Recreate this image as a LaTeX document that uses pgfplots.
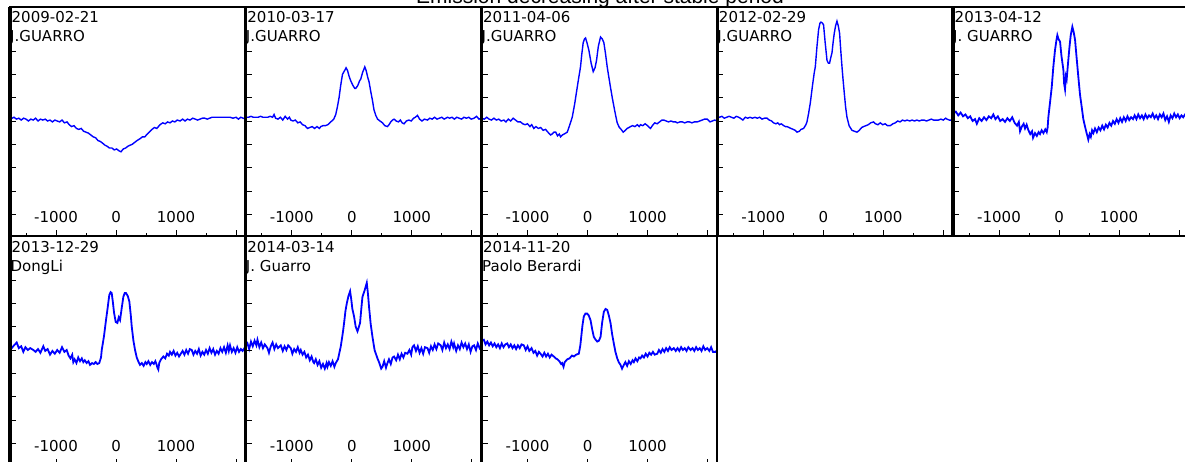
\documentclass[border=0pt]{standalone}
\usepackage{fontspec}
\setmainfont{DejaVu Sans}
\newfontfamily\titlefont{Liberation Sans}
\usepackage{pgfplots}
\pgfplotsset{compat=1.18}
\definecolor{specblue}{RGB}{0,0,255}

\tikzset{lbl/.style={anchor=base west, inner sep=0pt, font=\fontsize{15}{18}\selectfont}}
\pgfplotsset{
  panel/.style={
    anchor=north west,
    scale only axis,
    width=235.75pt, height=229pt,
    xmin=-1767, xmax=2162,
    ymin=-0.233, ymax=2.222,
    axis on top,
    axis line style={line width=1.2pt, black},
    tick align=inside,
    tick pos=left,
    xtick={-1000,0,1000,2000},
    xticklabels={-1000,0,1000,{}},
    minor xtick={-1500,-500,500,1500},
    ytick={0,0.25,...,1.75},
    yticklabels={},
    major tick length=6pt,
    minor tick length=3pt,
    tick style={black, line width=0.9pt},
    every x tick label/.append style={anchor=base, yshift=13.5pt, font=\fontsize{15}{18}\selectfont},
    after end axis/.code={
      \draw[line width=2.2pt] (rel axis cs:1,0) -- (rel axis cs:1,1);
      \draw[line width=2.6pt] (rel axis cs:0,0) -- (rel axis cs:1,0);
      \draw[line width=3.2pt] (rel axis cs:0,0) -- (rel axis cs:0,1);
    },
  },
  thinspec/.style={specblue, line width=1.4pt, mark=none},
  noisyspec/.style={specblue, line width=1.8pt, mark=none},
}

\begin{document}
\begin{tikzpicture}

\node[anchor=base, inner sep=0pt, font=\titlefont\fontsize{21}{25}\selectfont] at (600pt,-3pt) {Emission decreasing after stable period};

% ---------- Panel 1 ----------
\begin{axis}[panel, at={(10pt,-7pt)}]
\addplot[thinspec] coordinates {
(-1767,1.05) (-1730,1.03) (-1700,1.04) (-1660,1.02) (-1620,1.03) (-1580,1.01) (-1540,1.03) (-1500,1.02) (-1460,1.00) (-1420,1.02) (-1380,1.01) (-1340,1.03) (-1300,1.00) (-1260,1.02) (-1220,1.01) (-1180,1.02) (-1140,1.00) (-1100,1.01) (-1060,0.99) (-1020,1.01) (-980,1.00) (-940,0.99) (-900,1.01) (-860,0.98) (-817,0.99) (-780,0.96) (-740,0.94) (-700,0.95) (-660,0.92) (-620,0.91) (-580,0.92) (-540,0.89) (-500,0.88) (-460,0.87) (-420,0.85) (-380,0.83) (-340,0.82) (-300,0.79) (-260,0.78) (-220,0.76) (-183,0.74) (-150,0.73) (-110,0.71) (-67,0.71) (-30,0.69) (10,0.70) (50,0.68) (83,0.67) (120,0.70) (160,0.71) (200,0.73) (233,0.74) (270,0.75) (310,0.77) (350,0.79) (400,0.81) (440,0.83) (480,0.83) (520,0.86) (567,0.89) (600,0.91) (640,0.93) (680,0.92) (733,0.96) (780,0.98) (820,0.97) (860,0.99) (900,0.98) (940,1.00) (980,0.99) (1020,1.01) (1067,1.00) (1110,1.02) (1150,1.00) (1190,1.02) (1233,1.01) (1280,1.03) (1320,1.02) (1360,1.01) (1400,1.02) (1440,1.03) (1480,1.03) (1520,1.02) (1560,1.03) (1600,1.04) (1650,1.04) (1700,1.04) (1750,1.04) (1800,1.04) (1850,1.04) (1900,1.04) (1950,1.03) (2000,1.04) (2040,1.02) (2080,1.04) (2120,1.03) (2162,1.02)
};
\node[lbl] at ([xshift=1.5pt,yshift=-15.5pt]rel axis cs:0,1) {2009-02-21};
\node[lbl] at ([xshift=0pt,yshift=-34.5pt]rel axis cs:0,1) {J.GUARRO};
\end{axis}

% ---------- Panel 2 ----------
\begin{axis}[panel, at={(245.75pt,-7pt)}]
\addplot[thinspec] coordinates {
(-1767,1.04) (-1720,1.04) (-1680,1.05) (-1640,1.04) (-1600,1.04) (-1560,1.04) (-1520,1.05) (-1480,1.04) (-1440,1.04) (-1400,1.04) (-1360,1.05) (-1320,1.04) (-1295,1.07) (-1270,1.03) (-1230,1.02) (-1190,1.04) (-1150,1.01) (-1110,1.05) (-1070,1.02) (-1040,1.04) (-1017,1.01) (-980,1.00) (-940,1.01) (-900,0.98) (-860,0.99) (-820,0.96) (-780,0.95) (-738,0.92) (-700,0.93) (-660,0.94) (-620,0.92) (-580,0.94) (-540,0.92) (-517,0.94) (-480,0.95) (-440,0.95) (-400,0.96) (-350,0.99) (-300,1.02) (-267,1.07) (-240,1.15) (-212,1.25) (-185,1.38) (-155,1.50) (-120,1.54) (-95,1.57) (-70,1.54) (-45,1.48) (-17,1.43) (20,1.38) (50,1.35) (67,1.35) (100,1.38) (130,1.43) (150,1.45) (180,1.52) (217,1.58) (240,1.54) (265,1.47) (288,1.42) (315,1.32) (345,1.22) (370,1.12) (400,1.06) (430,1.02) (470,1.00) (512,0.98) (550,0.95) (595,0.94) (620,0.96) (650,0.99) (680,1.01) (705,1.02) (740,1.00) (780,0.99) (810,1.01) (840,0.98) (872,0.97) (910,1.00) (950,1.01) (990,1.00) (1030,1.03) (1060,1.04) (1095,1.06) (1130,1.02) (1170,1.00) (1210,1.02) (1262,1.01) (1300,1.03) (1340,1.02) (1380,1.04) (1420,1.02) (1460,1.03) (1500,1.04) (1540,1.02) (1595,1.04) (1630,1.03) (1670,1.04) (1710,1.02) (1750,1.04) (1790,1.03) (1830,1.02) (1870,1.04) (1910,1.03) (1950,1.04) (1990,1.02) (2038,1.03) (2080,1.05) (2120,1.02) (2162,1.03)
};
\node[lbl] at ([xshift=1.5pt,yshift=-15.5pt]rel axis cs:0,1) {2010-03-17};
\node[lbl] at ([xshift=0pt,yshift=-34.5pt]rel axis cs:0,1) {J.GUARRO};
\end{axis}

% ---------- Panel 3 ----------
\begin{axis}[panel, at={(481.5pt,-7pt)}]
\addplot[thinspec] coordinates {
(-1767,1.03) (-1720,1.02) (-1680,1.04) (-1640,1.02) (-1600,1.01) (-1560,1.03) (-1520,1.01) (-1480,1.02) (-1440,1.00) (-1395,1.01) (-1360,0.99) (-1320,1.02) (-1280,1.00) (-1240,1.03) (-1200,1.01) (-1160,0.99) (-1117,0.99) (-1080,0.97) (-1040,0.96) (-1000,0.97) (-960,0.94) (-930,0.96) (-895,0.92) (-860,0.94) (-820,0.92) (-780,0.93) (-740,0.90) (-700,0.91) (-660,0.88) (-617,0.85) (-590,0.86) (-560,0.88) (-530,0.88) (-500,0.84) (-470,0.86) (-450,0.83) (-420,0.85) (-390,0.86) (-338,0.88) (-300,0.95) (-255,1.04) (-215,1.18) (-172,1.36) (-145,1.47) (-117,1.58) (-95,1.72) (-72,1.84) (-50,1.88) (-33,1.89) (-5,1.83) (22,1.76) (60,1.62) (95,1.53) (125,1.57) (150,1.65) (180,1.80) (217,1.90) (245,1.88) (272,1.84) (300,1.72) (328,1.58) (355,1.47) (383,1.36) (415,1.24) (450,1.12) (475,1.04) (495,0.98) (530,0.93) (560,0.91) (595,0.88) (630,0.90) (660,0.92) (690,0.93) (717,0.94) (750,0.95) (790,0.94) (830,0.96) (860,0.94) (883,0.96) (920,0.95) (960,0.97) (1000,0.95) (1030,0.93) (1050,0.92) (1080,0.95) (1120,0.98) (1160,0.97) (1200,0.99) (1240,1.01) (1272,1.01) (1310,1.00) (1350,0.99) (1390,1.00) (1430,0.99) (1470,0.99) (1495,0.98) (1540,0.99) (1580,0.99) (1620,0.98) (1660,0.99) (1700,0.99) (1740,0.98) (1780,0.99) (1828,0.99) (1870,1.00) (1910,1.01) (1950,1.02) (1995,1.02) (2040,0.99) (2080,1.00) (2120,1.01) (2162,1.00)
};
\node[lbl] at ([xshift=1.5pt,yshift=-15.5pt]rel axis cs:0,1) {2011-04-06};
\node[lbl] at ([xshift=0pt,yshift=-34.5pt]rel axis cs:0,1) {J.GUARRO};
\end{axis}

% ---------- Panel 4 ----------
\begin{axis}[panel, at={(717.25pt,-7pt)}]
\addplot[thinspec] coordinates {
(-1767,1.05) (-1730,1.04) (-1690,1.05) (-1650,1.03) (-1610,1.04) (-1570,1.05) (-1530,1.04) (-1490,1.03) (-1450,1.05) (-1410,1.04) (-1383,1.03) (-1340,1.01) (-1300,1.04) (-1260,1.03) (-1220,1.04) (-1180,1.03) (-1140,1.04) (-1100,1.03) (-1060,1.04) (-1020,1.02) (-980,1.03) (-938,1.03) (-900,1.01) (-860,1.00) (-828,0.98) (-790,0.97) (-760,0.98) (-730,0.96) (-700,0.97) (-660,0.95) (-630,0.94) (-605,0.94) (-570,0.93) (-540,0.92) (-500,0.91) (-470,0.90) (-438,0.88) (-400,0.89) (-370,0.91) (-328,0.92) (-290,0.96) (-272,0.99) (-245,1.08) (-217,1.19) (-180,1.38) (-150,1.52) (-133,1.58) (-105,1.80) (-78,1.98) (-55,2.05) (-38,2.06) (-15,2.05) (5,2.03) (30,1.85) (62,1.65) (85,1.62) (105,1.62) (125,1.68) (145,1.73) (165,1.85) (183,1.94) (205,2.02) (228,2.07) (250,2.02) (272,1.94) (292,1.75) (312,1.58) (330,1.44) (350,1.30) (372,1.15) (395,1.04) (430,0.95) (478,0.90) (520,0.89) (562,0.88) (600,0.90) (640,0.93) (672,0.94) (710,0.95) (750,0.96) (790,0.98) (838,0.99) (870,0.97) (910,0.96) (950,0.98) (990,0.96) (1030,0.97) (1070,0.95) (1117,0.95) (1160,0.97) (1200,0.98) (1240,1.00) (1280,0.99) (1320,1.01) (1360,1.00) (1395,1.01) (1440,1.00) (1480,1.01) (1520,1.00) (1560,1.01) (1600,1.00) (1640,1.01) (1680,1.01) (1720,1.00) (1760,1.01) (1800,1.02) (1838,1.01) (1880,1.01) (1920,1.01) (1960,1.02) (2000,1.01) (2040,1.03) (2062,1.02) (2100,1.01) (2162,1.01)
};
\node[lbl] at ([xshift=1.5pt,yshift=-15.5pt]rel axis cs:0,1) {2012-02-29};
\node[lbl] at ([xshift=0pt,yshift=-34.5pt]rel axis cs:0,1) {J.GUARRO};
\end{axis}

% ---------- Panel 5 ----------
\begin{axis}[panel, at={(953pt,-7pt)}]
\addplot[noisyspec] coordinates {
(-1767,1.08) (-1720,1.10) (-1680,1.06) (-1640,1.09) (-1600,1.05) (-1560,1.07) (-1520,1.03) (-1480,1.05) (-1440,1.00) (-1400,1.02) (-1370,0.97) (-1330,1.03) (-1290,1.00) (-1250,1.04) (-1210,1.01) (-1170,1.05) (-1130,1.03) (-1095,1.07) (-1060,1.02) (-1020,1.05) (-980,1.00) (-940,1.02) (-900,0.99) (-860,1.03) (-820,1.00) (-780,1.04) (-740,0.98) (-700,0.95) (-670,0.99) (-650,0.89) (-620,0.94) (-590,0.97) (-567,0.92) (-540,0.96) (-510,0.90) (-480,0.86) (-450,0.89) (-433,0.82) (-400,0.87) (-370,0.84) (-340,0.88) (-317,0.86) (-290,0.90) (-260,0.87) (-230,0.91) (-205,0.88) (-190,0.93) (-178,1.04) (-150,1.20) (-122,1.36) (-95,1.58) (-67,1.76) (-45,1.86) (-28,1.92) (-10,1.88) (17,1.85) (40,1.70) (72,1.55) (85,1.40) (100,1.34) (115,1.48) (128,1.45) (150,1.62) (172,1.78) (195,1.92) (222,2.01) (245,1.95) (267,1.87) (290,1.70) (322,1.47) (350,1.28) (378,1.15) (405,1.02) (433,0.94) (460,0.87) (488,0.80) (510,0.86) (530,0.83) (550,0.90) (572,0.87) (600,0.92) (630,0.88) (660,0.93) (690,0.90) (720,0.95) (750,0.91) (780,0.96) (810,0.93) (840,0.98) (870,0.95) (900,1.00) (930,0.97) (960,1.02) (990,0.98) (1020,1.03) (1050,0.99) (1080,1.04) (1110,1.00) (1140,1.05) (1170,1.01) (1200,1.04) (1233,1.02) (1260,1.06) (1290,1.02) (1320,1.07) (1350,1.03) (1380,1.06) (1410,1.02) (1440,1.07) (1470,1.03) (1500,1.06) (1530,1.04) (1560,1.08) (1590,1.03) (1620,1.06) (1650,1.02) (1680,1.07) (1710,1.04) (1740,1.08) (1770,1.01) (1800,1.05) (1830,0.99) (1860,1.06) (1890,1.03) (1920,1.08) (1950,1.04) (1980,1.07) (2010,1.03) (2040,1.06) (2070,1.04) (2100,1.07) (2130,1.05) (2162,1.06)
};
\node[lbl] at ([xshift=1.5pt,yshift=-15.5pt]rel axis cs:0,1) {2013-04-12};
\node[lbl] at ([xshift=0pt,yshift=-34.5pt]rel axis cs:0,1) {J. GUARRO};
\end{axis}

% ---------- Panel 6 ----------
\begin{axis}[panel, at={(10pt,-236pt)}]
\addplot[noisyspec] coordinates {
(-1767,1.00) (-1738,1.02) (-1700,1.05) (-1655,1.08) (-1620,1.02) (-1580,1.04) (-1545,0.98) (-1510,1.03) (-1470,1.00) (-1430,1.02) (-1378,1.00) (-1340,0.98) (-1300,1.01) (-1260,0.97) (-1212,1.04) (-1180,0.99) (-1140,1.01) (-1100,0.95) (-1060,0.99) (-1020,0.96) (-980,1.00) (-940,0.97) (-900,1.03) (-860,0.98) (-822,1.00) (-790,0.94) (-760,0.91) (-730,0.95) (-712,0.87) (-690,0.90) (-660,0.86) (-630,0.92) (-600,0.88) (-570,0.91) (-545,0.87) (-520,0.89) (-490,0.86) (-460,0.88) (-433,0.84) (-400,0.86) (-370,0.85) (-340,0.87) (-310,0.85) (-280,0.86) (-250,0.92) (-238,1.00) (-200,1.15) (-167,1.32) (-140,1.45) (-112,1.59) (-90,1.62) (-72,1.61) (-50,1.50) (-33,1.40) (-5,1.30) (22,1.29) (45,1.35) (67,1.32) (95,1.45) (122,1.57) (145,1.61) (167,1.61) (195,1.58) (222,1.52) (245,1.38) (262,1.25) (290,1.10) (317,1.00) (345,0.92) (370,0.88) (400,0.84) (430,0.86) (460,0.83) (490,0.87) (512,0.85) (540,0.88) (570,0.84) (600,0.87) (630,0.85) (655,0.88) (678,0.84) (690,0.81) (705,0.79) (720,0.86) (750,0.90) (788,0.93) (820,0.91) (850,0.96) (880,0.94) (900,0.98) (930,0.95) (960,0.99) (990,0.94) (1020,0.97) (1050,0.93) (1080,0.96) (1110,0.99) (1140,0.95) (1170,1.00) (1200,0.96) (1230,1.01) (1262,1.00) (1290,0.95) (1320,0.99) (1350,0.96) (1380,1.01) (1410,0.94) (1440,0.98) (1470,0.95) (1500,1.00) (1530,0.96) (1560,1.02) (1590,0.97) (1620,1.01) (1650,0.95) (1680,0.99) (1710,0.96) (1740,1.02) (1770,0.98) (1800,1.03) (1830,0.97) (1860,1.05) (1880,0.99) (1900,1.05) (1930,0.98) (1960,1.02) (1990,0.97) (2020,1.03) (2050,0.98) (2080,1.01) (2110,0.99) (2140,1.02) (2162,1.00)
};
\node[lbl] at ([xshift=1.5pt,yshift=-16.5pt]rel axis cs:0,1) {2013-12-29};
\node[lbl] at ([xshift=0.5pt,yshift=-35.5pt]rel axis cs:0,1) {DongLi};
\end{axis}

% ---------- Panel 7 ----------
\begin{axis}[panel, at={(245.75pt,-236pt)}]
\addplot[noisyspec] coordinates {
(-1767,1.04) (-1738,1.07) (-1710,1.01) (-1680,1.09) (-1650,1.04) (-1620,1.10) (-1590,1.05) (-1572,1.11) (-1540,1.03) (-1510,1.08) (-1480,1.02) (-1450,1.06) (-1405,1.02) (-1380,0.97) (-1350,1.04) (-1320,1.08) (-1290,1.01) (-1260,1.06) (-1230,1.02) (-1183,1.05) (-1150,0.99) (-1120,1.04) (-1090,1.00) (-1060,1.05) (-1017,1.02) (-990,0.96) (-960,1.01) (-930,0.98) (-900,1.03) (-870,0.97) (-850,1.00) (-820,0.95) (-790,0.98) (-760,0.92) (-730,0.95) (-700,0.89) (-670,0.93) (-640,0.87) (-628,0.86) (-600,0.90) (-570,0.84) (-540,0.88) (-510,0.81) (-480,0.85) (-450,0.80) (-420,0.86) (-405,0.82) (-380,0.87) (-350,0.83) (-320,0.88) (-290,0.82) (-267,0.86) (-230,0.90) (-183,1.04) (-150,1.18) (-128,1.29) (-105,1.42) (-83,1.50) (-55,1.58) (-28,1.63) (-10,1.55) (10,1.44) (38,1.36) (65,1.25) (95,1.20) (115,1.24) (138,1.29) (160,1.45) (178,1.57) (210,1.63) (250,1.72) (270,1.60) (288,1.46) (315,1.28) (345,1.14) (380,1.00) (428,0.91) (460,0.86) (490,0.80) (512,0.82) (540,0.88) (570,0.81) (595,0.86) (620,0.90) (650,0.85) (680,0.92) (705,0.93) (740,0.89) (770,0.95) (800,0.90) (830,0.96) (860,0.92) (890,0.97) (928,0.96) (960,1.00) (990,0.95) (1010,1.03) (1038,1.05) (1070,0.99) (1100,1.04) (1130,0.97) (1160,1.02) (1190,0.96) (1220,1.03) (1262,1.02) (1290,0.97) (1320,1.04) (1350,1.00) (1380,1.06) (1410,1.01) (1440,1.07) (1483,1.05) (1510,1.00) (1540,1.08) (1570,1.02) (1600,1.06) (1630,1.01) (1660,1.09) (1690,1.03) (1705,1.07) (1740,0.99) (1770,1.05) (1800,1.01) (1830,1.08) (1860,1.03) (1890,1.07) (1920,1.01) (1950,1.06) (1980,0.98) (2010,1.04) (2038,1.05) (2070,1.00) (2100,1.07) (2130,1.02) (2162,1.05)
};
\node[lbl] at ([xshift=1.5pt,yshift=-16.5pt]rel axis cs:0,1) {2014-03-14};
\node[lbl] at ([xshift=0pt,yshift=-35.5pt]rel axis cs:0,1) {J. Guarro};
\end{axis}

% ---------- Panel 8 ----------
\begin{axis}[panel, at={(481.5pt,-236pt)}]
\addplot[noisyspec] coordinates {
(-1767,1.10) (-1728,1.11) (-1700,1.06) (-1670,1.09) (-1640,1.05) (-1610,1.08) (-1580,1.04) (-1550,1.07) (-1520,1.03) (-1490,1.06) (-1460,1.02) (-1430,1.07) (-1400,1.03) (-1370,1.06) (-1338,1.07) (-1310,1.03) (-1280,1.06) (-1250,1.02) (-1220,1.05) (-1190,1.01) (-1160,1.05) (-1130,1.02) (-1100,1.06) (-1062,1.05) (-1030,1.00) (-1000,1.04) (-970,0.99) (-933,1.02) (-900,0.97) (-870,0.99) (-840,0.94) (-810,0.98) (-783,0.96) (-750,0.93) (-720,0.97) (-690,0.93) (-660,0.96) (-630,0.92) (-600,0.95) (-562,0.93) (-530,0.91) (-500,0.90) (-470,0.88) (-440,0.85) (-422,0.86) (-400,0.82) (-380,0.87) (-338,0.90) (-300,0.91) (-260,0.94) (-228,0.93) (-190,0.95) (-145,0.96) (-120,1.05) (-105,1.14) (-85,1.26) (-62,1.36) (-35,1.39) (-5,1.39) (20,1.37) (50,1.32) (78,1.22) (105,1.14) (135,1.11) (162,1.09) (190,1.10) (217,1.14) (245,1.30) (272,1.41) (300,1.44) (328,1.43) (355,1.37) (383,1.29) (410,1.17) (438,1.07) (465,0.98) (495,0.91) (520,0.87) (550,0.84) (575,0.80) (605,0.84) (630,0.87) (660,0.83) (690,0.88) (720,0.85) (750,0.89) (772,0.87) (800,0.91) (830,0.88) (860,0.92) (883,0.91) (910,0.94) (940,0.92) (970,0.96) (1000,0.93) (1030,0.97) (1060,0.95) (1090,0.98) (1120,0.95) (1162,0.96) (1190,1.00) (1220,0.97) (1250,1.01) (1280,0.98) (1310,1.02) (1340,0.99) (1370,1.03) (1400,1.00) (1438,1.02) (1470,0.99) (1500,1.02) (1530,0.99) (1560,1.03) (1590,1.00) (1620,1.02) (1650,0.99) (1680,1.03) (1717,1.00) (1750,1.02) (1780,0.99) (1810,1.03) (1840,1.00) (1870,1.02) (1900,0.99) (1930,1.04) (1960,1.00) (1995,1.02) (2030,0.99) (2060,1.03) (2090,0.98) (2133,0.98) (2162,1.00)
};
\node[lbl] at ([xshift=1.5pt,yshift=-16.5pt]rel axis cs:0,1) {2014-11-20};
\node[lbl] at ([xshift=0.5pt,yshift=-35.5pt]rel axis cs:0,1) {Paolo Berardi};
\end{axis}

\pgfresetboundingbox
\path[use as bounding box] (0pt,0pt) rectangle (1185pt,-461pt);
\end{tikzpicture}
\end{document}
